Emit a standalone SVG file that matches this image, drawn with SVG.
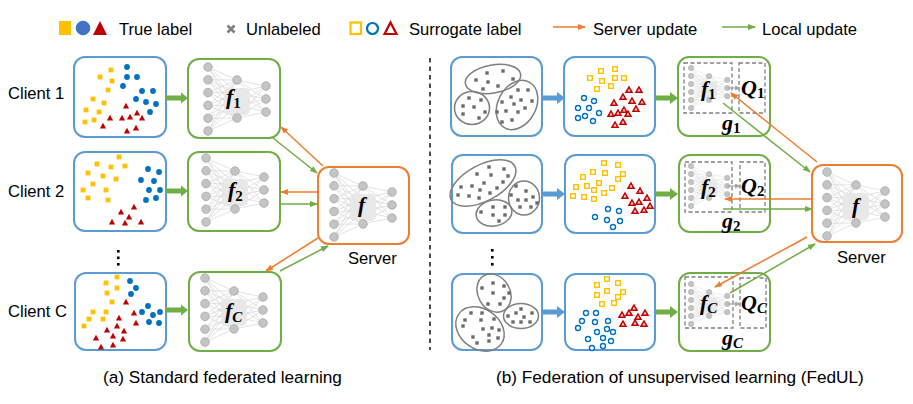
<svg xmlns="http://www.w3.org/2000/svg" width="913" height="404" viewBox="0 0 913 404">
<style>
.t{font-family:"Liberation Sans",Arial,sans-serif;font-size:16.6px;fill:#000}
.cap{font-family:"Liberation Sans",Arial,sans-serif;font-size:17.2px;fill:#000}
.m{font-family:"Liberation Serif","Times New Roman",serif;font-weight:bold;font-style:italic;font-size:22px;fill:#000}
.ms{font-family:"Liberation Serif","Times New Roman",serif;font-weight:bold;font-style:normal;font-size:15px}
.msi{font-family:"Liberation Serif","Times New Roman",serif;font-weight:bold;font-style:italic;font-size:15px}
.bb{fill:#fff;stroke:#5b9bd5;stroke-width:2}
.bg{fill:#fff;stroke:#70ad47;stroke-width:2}
.bo{fill:#fff;stroke:#ed7d31;stroke-width:2}
.dash{fill:none;stroke:#7f7f7f;stroke-width:1.3;stroke-dasharray:4 2.5}
.ell{fill:none;stroke:#7f7f7f;stroke-width:1.5}
.or{stroke:#ed7d31;stroke-width:1.5;fill:none;marker-end:url(#ao)}
.gr{stroke:#70ad47;stroke-width:1.5;fill:none;marker-end:url(#ag)}
</style>
<defs>
<marker id="ao" markerWidth="8" markerHeight="6" refX="7" refY="3" orient="auto" markerUnits="userSpaceOnUse"><path d="M0,0 L8,3 L0,6 Z" fill="#ed7d31"/></marker>
<marker id="ag" markerWidth="8" markerHeight="6" refX="7" refY="3" orient="auto" markerUnits="userSpaceOnUse"><path d="M0,0 L8,3 L0,6 Z" fill="#70ad47"/></marker>
<marker id="ak" markerWidth="6" markerHeight="5" refX="5" refY="2.5" orient="auto" markerUnits="userSpaceOnUse"><path d="M0,0 L6,2.5 L0,5 Z" fill="#a6a6a6"/></marker>
<rect id="ys" x="-2.4" y="-2.4" width="4.8" height="4.8" fill="#ffc000"/>
<circle id="bc" r="2.9" fill="#0070c0"/>
<polygon id="rt" points="0,-3.2 3.1,2.4 -3.1,2.4" fill="#c00000"/>
<rect id="yh" x="-2.3" y="-2.3" width="4.6" height="4.6" fill="#fff" stroke="#ffc000" stroke-width="1.4"/>
<circle id="bh" r="2.5" fill="#fff" stroke="#0070c0" stroke-width="1.4"/>
<polygon id="rh" points="0,-3 3,2.3 -3,2.3" fill="#f6caca" stroke="#c00000" stroke-width="1.5"/>
<rect id="ux" x="-1.7" y="-1.7" width="3.4" height="3.4" fill="#6b6b6b"/>
<g id="net">
<path fill="none" stroke="#d6d6d6" stroke-width="0.7" d="M0 0L29 13M0 0L29 25.7M0 0L29 38.3M0 0L29 51M0 12.8L29 13M0 12.8L29 25.7M0 12.8L29 38.3M0 12.8L29 51M0 25.6L29 13M0 25.6L29 25.7M0 25.6L29 38.3M0 25.6L29 51M0 38.4L29 13M0 38.4L29 25.7M0 38.4L29 38.3M0 38.4L29 51M0 51.2L29 13M0 51.2L29 25.7M0 51.2L29 38.3M0 51.2L29 51M0 64L29 13M0 64L29 25.7M0 64L29 38.3M0 64L29 51M29 13L58 19M29 13L58 32M29 13L58 45M29 25.7L58 19M29 25.7L58 32M29 25.7L58 45M29 38.3L58 19M29 38.3L58 32M29 38.3L58 45M29 51L58 19M29 51L58 32M29 51L58 45"/>
<rect x="16" y="21" width="26" height="27" rx="5" fill="#e8e8e8"/>
<g fill="#c4c4c4" stroke="#a9a9a9" stroke-width="0.8">
<circle cx="0" cy="0" r="4.3"/><circle cx="0" cy="12.8" r="4.3"/><circle cx="0" cy="25.6" r="4.3"/><circle cx="0" cy="38.4" r="4.3"/><circle cx="0" cy="51.2" r="4.3"/><circle cx="0" cy="64" r="4.3"/>
<circle cx="29" cy="13" r="4.3"/><circle cx="29" cy="51" r="4.3"/>
<circle cx="58" cy="19" r="4.3"/><circle cx="58" cy="32" r="4.3"/><circle cx="58" cy="45" r="4.3"/>
</g>
</g>
</defs>
<rect width="913" height="404" fill="#fff"/>

<g id="legend">
<rect x="59" y="21" width="12" height="14" fill="#ffc000"/>
<circle cx="83" cy="28" r="6.8" fill="#4472c4" stroke="#2e75b6" stroke-width="1"/>
<polygon points="93,35 100,21 107,35" fill="#c00000"/>
<text class="t" x="119" y="34.5">True label</text>
<path d="M227.5,25.5 L234.5,32.5 M234.5,25.5 L227.5,32.5" stroke="#7f7f7f" stroke-width="2.6"/>
<text class="t" x="246" y="34.5">Unlabeled</text>
<rect x="350.5" y="22.5" width="10.5" height="11.5" fill="none" stroke="#ffc000" stroke-width="2.2"/>
<circle cx="372.5" cy="28.5" r="5.5" fill="none" stroke="#0070c0" stroke-width="2.2"/>
<polygon points="384.5,34 390.5,22.5 396.5,34" fill="none" stroke="#c00000" stroke-width="2.2"/>
<text class="t" x="409" y="34.5">Surrogate label</text>
<line x1="553" y1="27" x2="585" y2="27" class="or"/>
<text class="t" x="593" y="34.5">Server update</text>
<line x1="722" y1="27" x2="755" y2="27" class="gr"/>
<text class="t" x="762" y="34.5">Local update</text>
</g>

<g id="client-labels">
<text class="t" x="8" y="98.5">Client 1</text>
<text class="t" x="8" y="197">Client 2</text>
<text class="t" x="8" y="317">Client C</text>
<g fill="#000"><rect x="117" y="250" width="2.6" height="2.6"/><rect x="117" y="256.5" width="2.6" height="2.6"/><rect x="117" y="263" width="2.6" height="2.6"/></g>
<g fill="#000"><rect x="491" y="249" width="2.6" height="2.6"/><rect x="491" y="256" width="2.6" height="2.6"/><rect x="491" y="263" width="2.6" height="2.6"/></g>
</g>

<g id="client1-data">
<rect class="bb" x="74" y="57" width="92" height="80" rx="11"/>
<use href="#ys" x="111" y="70"/><use href="#ys" x="100" y="77"/><use href="#ys" x="112" y="81"/><use href="#ys" x="108" y="90"/><use href="#ys" x="93" y="99"/><use href="#ys" x="104" y="103"/><use href="#ys" x="86" y="110"/><use href="#ys" x="99" y="112"/><use href="#ys" x="85" y="122"/><use href="#ys" x="94" y="120"/>
<use href="#bc" x="127" y="67"/><use href="#bc" x="127" y="77"/><use href="#bc" x="137" y="77"/><use href="#bc" x="123" y="86"/><use href="#bc" x="142" y="91"/><use href="#bc" x="153" y="91"/><use href="#bc" x="136" y="99"/><use href="#bc" x="146" y="102"/><use href="#bc" x="156" y="104"/><use href="#bc" x="150" y="112"/>
<use href="#rt" x="126" y="106"/><use href="#rt" x="110" y="118"/><use href="#rt" x="122" y="118"/><use href="#rt" x="130" y="117"/><use href="#rt" x="137" y="113"/><use href="#rt" x="142" y="118"/><use href="#rt" x="103" y="126"/><use href="#rt" x="136" y="128"/><use href="#rt" x="127" y="131"/>
</g>
<g id="client2-data">
<rect class="bb" x="74" y="152" width="92" height="79" rx="11"/>
<use href="#ys" x="119" y="157"/><use href="#ys" x="97" y="164"/><use href="#ys" x="111" y="167"/><use href="#ys" x="125" y="166"/><use href="#ys" x="88" y="173"/><use href="#ys" x="103" y="176"/><use href="#ys" x="116" y="179"/><use href="#ys" x="93" y="184"/><use href="#ys" x="83" y="190"/><use href="#ys" x="106" y="190"/><use href="#ys" x="88" y="198"/><use href="#ys" x="108" y="200"/>
<use href="#bc" x="148" y="169"/><use href="#bc" x="159" y="172"/><use href="#bc" x="141" y="180"/><use href="#bc" x="154" y="181"/><use href="#bc" x="149" y="190"/><use href="#bc" x="160" y="190"/><use href="#bc" x="146" y="200"/><use href="#bc" x="156" y="198"/>
<use href="#rt" x="121" y="212"/><use href="#rt" x="134" y="207"/><use href="#rt" x="129" y="217"/><use href="#rt" x="112" y="222"/><use href="#rt" x="125" y="223"/><use href="#rt" x="141" y="222"/>
</g>
<g id="clientC-data">
<rect class="bb" x="75" y="273" width="91" height="77" rx="11"/>
<use href="#ys" x="117" y="277"/><use href="#ys" x="106" y="283"/><use href="#ys" x="117" y="288"/><use href="#ys" x="107" y="293"/><use href="#ys" x="112" y="302"/><use href="#ys" x="93" y="312"/><use href="#ys" x="106" y="312"/><use href="#ys" x="89" y="319"/><use href="#ys" x="103" y="319"/><use href="#ys" x="84" y="326"/>
<use href="#bc" x="130" y="281"/><use href="#bc" x="136" y="288"/><use href="#bc" x="131" y="294"/><use href="#bc" x="148" y="306"/><use href="#bc" x="142" y="312"/><use href="#bc" x="153" y="315"/><use href="#bc" x="160" y="312"/><use href="#bc" x="149" y="322"/><use href="#bc" x="159" y="323"/>
<use href="#rt" x="126" y="302"/><use href="#rt" x="134" y="313"/><use href="#rt" x="119" y="318"/><use href="#rt" x="136" y="323"/><use href="#rt" x="117" y="326"/><use href="#rt" x="124" y="331"/><use href="#rt" x="107" y="330"/><use href="#rt" x="96" y="338"/><use href="#rt" x="113" y="336"/><use href="#rt" x="123" y="339"/><use href="#rt" x="101" y="347"/><use href="#rt" x="113" y="345"/>
</g>

<g id="thick-arrows">
<polygon points="166,95.5 181,95.5 181,92.5 188,98 181,103.5 181,100.5 166,100.5" fill="#70ad47"/>
<polygon points="166,188.5 181,188.5 181,185.5 188,191 181,196.5 181,193.5 166,193.5" fill="#70ad47"/>
<polygon points="166,307.5 181,307.5 181,304.5 188,310 181,315.5 181,312.5 166,312.5" fill="#70ad47"/>
<polygon points="542,95.5 557,95.5 557,92 565,98 557,104 557,100.5 542,100.5" fill="#5b9bd5"/>
<polygon points="542,191.5 557,191.5 557,188 565,194 557,200 557,196.5 542,196.5" fill="#5b9bd5"/>
<polygon points="542,309.5 557,309.5 557,306 565,312 557,318 557,314.5 542,314.5" fill="#5b9bd5"/>
<polygon points="655,95.5 670,95.5 670,92 678,98 670,104 670,100.5 655,100.5" fill="#70ad47"/>
<polygon points="655,191.5 670,191.5 670,188 678,194 670,200 670,196.5 655,196.5" fill="#70ad47"/>
<polygon points="655,309.5 670,309.5 670,306 678,312 670,318 670,314.5 655,314.5" fill="#70ad47"/>
</g>

<g id="f1">
<rect class="bg" x="188" y="59" width="92" height="79" rx="11"/>
<use href="#net" x="208" y="67"/>
<text class="m" x="226" y="104">f<tspan class="ms" dy="4">1</tspan></text>
</g>
<g id="f2">
<rect class="bg" x="188" y="152" width="92" height="79" rx="11"/>
<use href="#net" x="206" y="158"/>
<text class="m" x="228" y="197">f<tspan class="ms" dy="4">2</tspan></text>
</g>
<g id="fC">
<rect class="bg" x="189" y="272" width="92" height="79" rx="11"/>
<use href="#net" x="205" y="278"/>
<text class="m" x="225" y="318">f<tspan class="msi" dy="4">C</tspan></text>
</g>
<g id="server-a">
<rect class="bo" x="318" y="167" width="91" height="77" rx="11"/>
<use href="#net" x="334" y="173"/>
<text class="m" x="358" y="212">f</text>
<text class="t" x="348" y="264">Server</text>
</g>

<g id="separator"><line x1="430" y1="58" x2="430" y2="350" stroke="#000" stroke-width="1.4" stroke-dasharray="4.5 4"/></g>

<g id="cluster1">
<rect class="bb" x="451" y="57" width="91" height="79" rx="11"/>
<ellipse class="ell" cx="493" cy="79" rx="28" ry="14" transform="rotate(-10 493 79)"/>
<ellipse class="ell" cx="472" cy="108" rx="17.5" ry="16.5"/>
<ellipse class="ell" cx="517" cy="105" rx="26" ry="19" transform="rotate(-62 517 105)"/>
<use href="#ux" x="487" y="73"/><use href="#ux" x="503" y="71"/><use href="#ux" x="476" y="80"/><use href="#ux" x="488" y="82"/><use href="#ux" x="498" y="86"/><use href="#ux" x="513" y="79"/><use href="#ux" x="483" y="89"/>
<use href="#ux" x="469" y="98"/><use href="#ux" x="481" y="100"/><use href="#ux" x="463" y="106"/><use href="#ux" x="474" y="107"/><use href="#ux" x="485" y="112"/><use href="#ux" x="463" y="114"/><use href="#ux" x="479" y="118"/>
<use href="#ux" x="518" y="90"/><use href="#ux" x="528" y="90"/><use href="#ux" x="511" y="97"/><use href="#ux" x="521" y="100"/><use href="#ux" x="532" y="101"/><use href="#ux" x="502" y="102"/><use href="#ux" x="514" y="104"/><use href="#ux" x="525" y="108"/><use href="#ux" x="497" y="112"/><use href="#ux" x="506" y="111"/><use href="#ux" x="518" y="112"/><use href="#ux" x="502" y="122"/><use href="#ux" x="512" y="120"/>
</g>
<g id="surrogate1">
<rect class="bb" x="564" y="57" width="91" height="79" rx="11"/>
<use href="#yh" x="601" y="71"/><use href="#yh" x="615" y="69"/><use href="#yh" x="590" y="78"/><use href="#yh" x="602" y="81"/><use href="#yh" x="615" y="78"/><use href="#yh" x="624" y="78"/><use href="#yh" x="611" y="86"/><use href="#yh" x="597" y="89"/>
<use href="#bh" x="584" y="98"/><use href="#bh" x="594" y="101"/><use href="#bh" x="578" y="108"/><use href="#bh" x="589" y="108"/><use href="#bh" x="599" y="113"/><use href="#bh" x="578" y="118"/><use href="#bh" x="585" y="116"/><use href="#bh" x="593" y="121"/>
<use href="#rh" x="629" y="90"/><use href="#rh" x="639" y="90"/><use href="#rh" x="623" y="97"/><use href="#rh" x="632" y="101"/><use href="#rh" x="642" y="102"/><use href="#rh" x="614" y="103"/><use href="#rh" x="624" y="110"/><use href="#rh" x="636" y="109"/><use href="#rh" x="611" y="114"/><use href="#rh" x="618" y="113"/><use href="#rh" x="628" y="114"/><use href="#rh" x="623" y="122"/><use href="#rh" x="615" y="125"/>
</g>
<g id="cluster2">
<rect class="bb" x="452" y="155" width="90" height="78" rx="11"/>
<ellipse class="ell" cx="483" cy="183" rx="36" ry="18" transform="rotate(-28 483 183)"/>
<ellipse class="ell" cx="494" cy="213" rx="18" ry="13" transform="rotate(-10 494 213)"/>
<ellipse class="ell" cx="524" cy="198" rx="15.5" ry="17"/>
<use href="#ux" x="489" y="167"/><use href="#ux" x="504" y="169"/><use href="#ux" x="477" y="174"/><use href="#ux" x="491" y="175"/><use href="#ux" x="508" y="176"/><use href="#ux" x="461" y="187"/><use href="#ux" x="472" y="186"/><use href="#ux" x="484" y="183"/><use href="#ux" x="503" y="182"/><use href="#ux" x="480" y="190"/><use href="#ux" x="490" y="193"/><use href="#ux" x="497" y="188"/><use href="#ux" x="458" y="195"/><use href="#ux" x="469" y="196"/><use href="#ux" x="479" y="198"/>
<use href="#ux" x="516" y="186"/><use href="#ux" x="526" y="191"/><use href="#ux" x="511" y="195"/><use href="#ux" x="518" y="200"/><use href="#ux" x="526" y="200"/><use href="#ux" x="533" y="197"/><use href="#ux" x="537" y="203"/><use href="#ux" x="520" y="207"/><use href="#ux" x="531" y="207"/>
<use href="#ux" x="493" y="207"/><use href="#ux" x="505" y="207"/><use href="#ux" x="481" y="212"/><use href="#ux" x="493" y="215"/><use href="#ux" x="505" y="215"/><use href="#ux" x="499" y="221"/>
</g>
<g id="surrogate2">
<rect class="bb" x="565" y="155" width="90" height="78" rx="11"/>
<use href="#yh" x="604" y="163"/><use href="#yh" x="618" y="165"/><use href="#yh" x="593" y="172"/><use href="#yh" x="605" y="173"/><use href="#yh" x="623" y="174"/><use href="#yh" x="583" y="177"/><use href="#yh" x="618" y="179"/><use href="#yh" x="599" y="183"/><use href="#yh" x="576" y="187"/><use href="#yh" x="587" y="186"/><use href="#yh" x="612" y="188"/><use href="#yh" x="594" y="190"/><use href="#yh" x="604" y="193"/><use href="#yh" x="573" y="196"/><use href="#yh" x="584" y="197"/><use href="#yh" x="594" y="199"/>
<use href="#rh" x="631" y="186"/><use href="#rh" x="640" y="191"/><use href="#rh" x="625" y="196"/><use href="#rh" x="647" y="198"/><use href="#rh" x="632" y="203"/><use href="#rh" x="639" y="202"/><use href="#rh" x="650" y="206"/><use href="#rh" x="635" y="211"/><use href="#rh" x="644" y="210"/>
<use href="#bh" x="608" y="209"/><use href="#bh" x="619" y="211"/><use href="#bh" x="595" y="217"/><use href="#bh" x="607" y="220"/><use href="#bh" x="620" y="221"/><use href="#bh" x="613" y="227"/>
</g>
<g id="clusterC">
<rect class="bb" x="452" y="274" width="90" height="76" rx="11"/>
<ellipse class="ell" cx="494" cy="293" rx="20" ry="16" transform="rotate(60 494 293)"/>
<ellipse class="ell" cx="480" cy="329" rx="26" ry="20" transform="rotate(35 480 329)"/>
<ellipse class="ell" cx="521" cy="316" rx="17.5" ry="12.5"/>
<use href="#ux" x="493" y="283"/><use href="#ux" x="504" y="286"/><use href="#ux" x="482" y="288"/><use href="#ux" x="493" y="293"/><use href="#ux" x="509" y="293"/><use href="#ux" x="504" y="298"/><use href="#ux" x="488" y="304"/><use href="#ux" x="500" y="304"/>
<use href="#ux" x="521" y="309"/><use href="#ux" x="516" y="313"/><use href="#ux" x="532" y="313"/><use href="#ux" x="508" y="316"/><use href="#ux" x="524" y="317"/><use href="#ux" x="513" y="322"/><use href="#ux" x="521" y="322"/><use href="#ux" x="530" y="322"/>
<use href="#ux" x="471" y="313"/><use href="#ux" x="482" y="313"/><use href="#ux" x="465" y="320"/><use href="#ux" x="481" y="320"/><use href="#ux" x="494" y="319"/><use href="#ux" x="463" y="326"/><use href="#ux" x="483" y="329"/><use href="#ux" x="492" y="328"/><use href="#ux" x="499" y="330"/><use href="#ux" x="473" y="337"/><use href="#ux" x="489" y="335"/><use href="#ux" x="498" y="338"/><use href="#ux" x="477" y="343"/><use href="#ux" x="489" y="341"/>
</g>
<g id="surrogateC">
<rect class="bb" x="565" y="274" width="90" height="76" rx="11"/>
<use href="#yh" x="607" y="279"/><use href="#yh" x="597" y="285"/><use href="#yh" x="618" y="283"/><use href="#yh" x="607" y="291"/><use href="#yh" x="623" y="292"/><use href="#yh" x="597" y="295"/><use href="#yh" x="618" y="297"/><use href="#yh" x="602" y="304"/><use href="#yh" x="614" y="303"/>
<use href="#rh" x="634" y="308"/><use href="#rh" x="629" y="313"/><use href="#rh" x="622" y="315"/><use href="#rh" x="638" y="317"/><use href="#rh" x="645" y="313"/><use href="#rh" x="623" y="324"/><use href="#rh" x="635" y="323"/><use href="#rh" x="644" y="324"/>
<use href="#bh" x="586" y="313"/><use href="#bh" x="596" y="313"/><use href="#bh" x="582" y="321"/><use href="#bh" x="595" y="322"/><use href="#bh" x="608" y="321"/><use href="#bh" x="578" y="328"/><use href="#bh" x="597" y="332"/><use href="#bh" x="607" y="329"/><use href="#bh" x="613" y="332"/><use href="#bh" x="588" y="339"/><use href="#bh" x="603" y="338"/><use href="#bh" x="611" y="341"/><use href="#bh" x="592" y="348"/><use href="#bh" x="603" y="346"/>
</g>

<g id="g1">
<rect class="bg" x="678" y="57" width="92" height="79" rx="11"/>
<use href="#net" transform="translate(691 68) scale(0.625)"/>
<rect class="dash" x="684" y="63" width="48" height="50"/>
<rect class="dash" x="739" y="63" width="26" height="50"/>
<line x1="727" y1="88" x2="740" y2="88" stroke="#a6a6a6" stroke-width="1.2" marker-end="url(#ak)"/>
<text class="m" x="701" y="96" font-size="21">f<tspan class="ms" font-size="14" dy="3">1</tspan></text>
<text class="m" x="741" y="95" font-size="21">Q<tspan class="ms" font-size="14" dy="3">1</tspan></text>
<text class="m" x="722" y="130" font-size="21">g<tspan class="ms" font-size="14" dy="3">1</tspan></text>
</g>
<g id="g2">
<rect class="bg" x="679" y="155" width="91" height="77" rx="11"/>
<use href="#net" transform="translate(691 166) scale(0.625)"/>
<rect class="dash" x="685" y="162" width="47" height="50"/>
<rect class="dash" x="740" y="162" width="25" height="50"/>
<line x1="727" y1="186" x2="740" y2="186" stroke="#a6a6a6" stroke-width="1.2" marker-end="url(#ak)"/>
<text class="m" x="701" y="194" font-size="21">f<tspan class="ms" font-size="14" dy="3">2</tspan></text>
<text class="m" x="741" y="193" font-size="21">Q<tspan class="ms" font-size="14" dy="3">2</tspan></text>
<text class="m" x="722" y="228" font-size="21">g<tspan class="ms" font-size="14" dy="3">2</tspan></text>
</g>
<g id="gC">
<rect class="bg" x="679" y="273" width="91" height="78" rx="11"/>
<use href="#net" transform="translate(691 284) scale(0.625)"/>
<rect class="dash" x="685" y="277" width="48" height="51"/>
<rect class="dash" x="740" y="278" width="26" height="50"/>
<line x1="727" y1="304" x2="740" y2="304" stroke="#a6a6a6" stroke-width="1.2" marker-end="url(#ak)"/>
<text class="m" x="700" y="310" font-size="21">f<tspan class="msi" font-size="14" dy="3">C</tspan></text>
<text class="m" x="741" y="310" font-size="21">Q<tspan class="msi" font-size="14" dy="3">C</tspan></text>
<text class="m" x="722" y="345" font-size="21">g<tspan class="msi" font-size="14" dy="3">C</tspan></text>
</g>
<g id="server-b">
<rect class="bo" x="812" y="165" width="90" height="77" rx="11"/>
<use href="#net" x="827" y="172"/>
<text class="m" x="852" y="213">f</text>
<text class="t" x="837" y="263">Server</text>
</g>

<g id="connectors">
<line class="or" x1="323" y1="166" x2="281" y2="127"/>
<line class="gr" x1="273" y1="138" x2="317" y2="173"/>
<line class="or" x1="318" y1="192" x2="281" y2="192"/>
<line class="gr" x1="281" y1="204" x2="317" y2="204"/>
<line class="or" x1="318" y1="238" x2="266" y2="271"/>
<line class="gr" x1="280" y1="271" x2="328" y2="246"/>
<line class="or" x1="817" y1="162" x2="731" y2="93"/>
<line class="gr" x1="723" y1="103" x2="810" y2="172"/>
<line class="or" x1="812" y1="199" x2="725" y2="199"/>
<line class="gr" x1="723" y1="209" x2="812" y2="209"/>
<line class="or" x1="807" y1="237" x2="715" y2="287"/>
<line class="gr" x1="730" y1="293" x2="815" y2="244"/>
</g>

<g id="captions">
<text class="cap" x="103" y="383">(a) Standard federated learning</text>
<text class="cap" x="496" y="383">(b) Federation of unsupervised learning (FedUL)</text>
</g>
</svg>
